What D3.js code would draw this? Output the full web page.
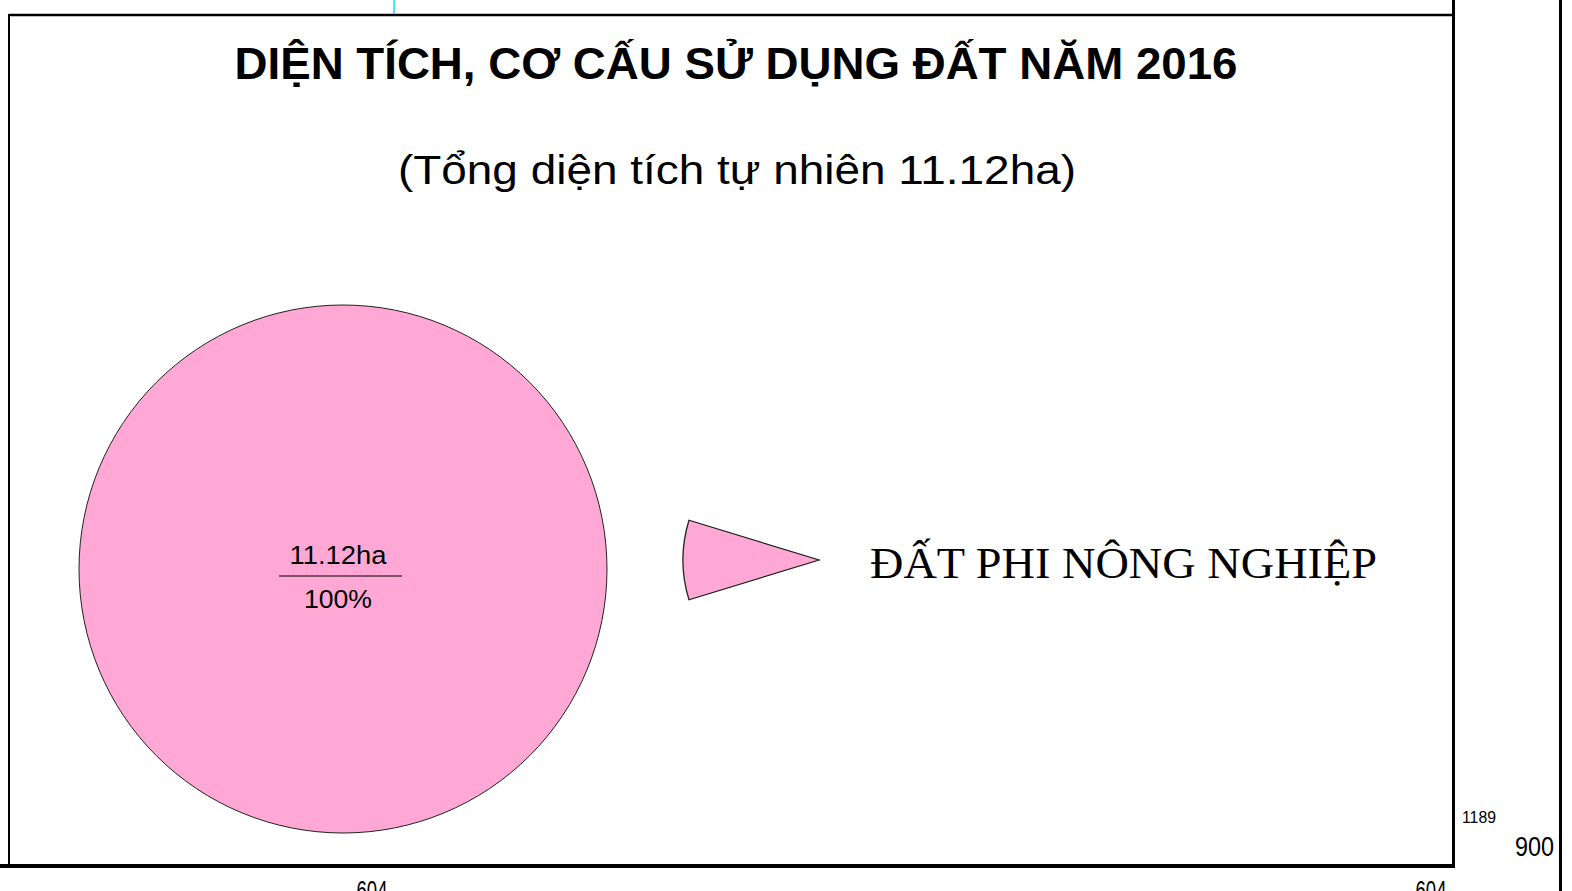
<!DOCTYPE html>
<html>
<head>
<meta charset="utf-8">
<script src="https://cdn.jsdelivr.net/npm/d3@7"></script>
<style>
body { margin: 0; background: #fff; }
svg { display: block; }
</style>
</head>
<body>
<div id="chart"></div>
<script>
/* Pie of land use structure 2016, one category only */

var width = 1572
var height = 891

// data
var categories = ["ĐẤT PHI NÔNG NGHIỆP"]
var areas = [11.12]          // ha
var colors = ["#ffa8d5"]
var title = "DIỆN TÍCH, CƠ CẤU SỬ DỤNG ĐẤT NĂM 2016"
var subtitle = "(Tổng diện tích tự nhiên 11.12ha)"
var sheetLabels = ["604", "604", "1189", "900"]

var total = d3.sum(areas)

var svg = d3.select("#chart")
        .append("svg")
        .attr("width", width)
        .attr("height", height)

// sheet frame lines
var frame = svg.append("g").attr("fill", "none").attr("stroke", "#000")
frame.append("line").attr("x1", 9).attr("y1", 15).attr("x2", 1453).attr("y2", 15).attr("stroke-width", 2.5)
frame.append("line").attr("x1", 9).attr("y1", 14).attr("x2", 9).attr("y2", 866).attr("stroke-width", 2)
frame.append("line").attr("x1", 1453.5).attr("y1", 0).attr("x2", 1453.5).attr("y2", 868).attr("stroke-width", 3)
frame.append("line").attr("x1", 0).attr("y1", 866).attr("x2", 1455).attr("y2", 866).attr("stroke-width", 4)
frame.append("line").attr("x1", 1560.5).attr("y1", 0).attr("x2", 1560.5).attr("y2", height).attr("stroke-width", 3)
svg.append("line").attr("x1", 394).attr("y1", 0).attr("x2", 394).attr("y2", 14)
    .attr("stroke", "#00e5ff").attr("stroke-width", 1.5)

// sheet size labels (condensed look, squeezed with textLength)
var sans = "'Liberation Sans', Arial, sans-serif"
function sheetText(t, x, y, size, len, anchor) {
    svg.append("text").text(t)
        .attr("x", x).attr("y", y)
        .attr("text-anchor", anchor)
        .attr("textLength", len).attr("lengthAdjust", "spacingAndGlyphs")
        .style("font-family", sans).style("font-size", size + "px")
}
sheetText(sheetLabels[0], 372, 900, 28, 31, "middle")
sheetText(sheetLabels[1], 1431, 900, 28, 31, "middle")
sheetText(sheetLabels[2], 1462, 823, 16, 34, "start")
sheetText(sheetLabels[3], 1554, 856, 28, 39, "end")

// titles
svg.append("text").text(title)
    .attr("x", 736).attr("y", 79)
    .attr("text-anchor", "middle")
    .attr("textLength", 1003).attr("lengthAdjust", "spacingAndGlyphs")
    .style("font-family", sans)
    .style("font-weight", "bold").style("font-size", "44px")

svg.append("text").text(subtitle)
    .attr("x", 737).attr("y", 184)
    .attr("text-anchor", "middle")
    .attr("textLength", 678).attr("lengthAdjust", "spacingAndGlyphs")
    .style("font-family", sans)
    .style("font-size", "41px")

// the pie
var cx = 343, cy = 569, radius = 264
var pie = d3.pie().sort(null).value(function(d) { return d })
var arc = d3.arc().innerRadius(0).outerRadius(radius)

var slices = svg.append("g").attr("transform", "translate(" + cx + "," + cy + ")")
        .selectAll("path")
        .data(pie(areas))
        .enter()
        .append("path")
        .attr("d", arc)
        .attr("fill", function(d, i) { return colors[i] })
        .attr("stroke", "#222")
        .attr("stroke-width", 1)

// value / percent label in the middle of the only slice
var lab = svg.append("g").attr("transform", "translate(" + (cx - 5) + "," + cy + ")")
        .style("font-family", sans)
        .style("font-size", "26px")
lab.append("text").text(areas[0].toFixed(2) + "ha")
    .attr("x", 0).attr("y", -5).attr("text-anchor", "middle")
    .attr("textLength", 97).attr("lengthAdjust", "spacingAndGlyphs")
lab.append("line").attr("x1", -59).attr("x2", 64).attr("y1", 7).attr("y2", 7)
    .attr("stroke", "#000").attr("stroke-width", 1.2)
lab.append("text").text(Math.round(areas[0] / total * 100) + "%")
    .attr("x", 0).attr("y", 39).attr("text-anchor", "middle")
    .attr("textLength", 68).attr("lengthAdjust", "spacingAndGlyphs")

// legend: a wedge pointing at the category name
var wedge = d3.arc().innerRadius(0).outerRadius(136)
    .startAngle(1.5 * Math.PI - 0.297).endAngle(1.5 * Math.PI + 0.297)

var legend = svg.append("g")
        .selectAll("g")
        .data(categories)
        .enter()
        .append("g")
        .attr("transform", function(d, i) { return "translate(819," + (560 + i * 120) + ")" })

legend.append("path")
    .attr("d", wedge)
    .attr("fill", function(d, i) { return colors[i] })
    .attr("stroke", "#222")
    .attr("stroke-width", 1.3)

legend.append("text")
    .text(function(d) { return d })
    .attr("x", 51).attr("y", 18)
    .attr("textLength", 507).attr("lengthAdjust", "spacingAndGlyphs")
    .style("font-family", "'Liberation Serif', 'Times New Roman', serif")
    .style("font-size", "44px")
</script>
</body>
</html>
